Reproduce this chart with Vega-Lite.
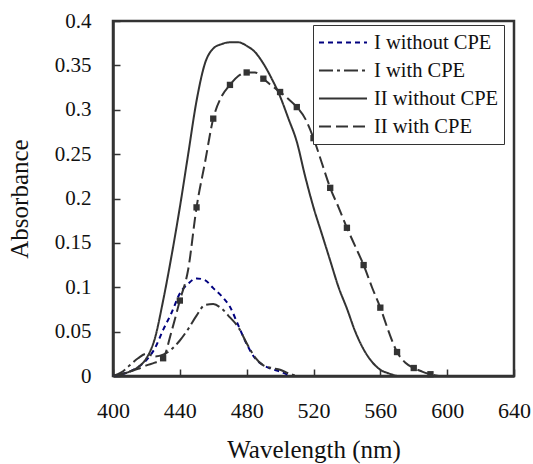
{
  "$schema": "https://vega.github.io/schema/vega-lite/v6.json",
  "width": 401,
  "height": 355,
  "autosize": {"type": "none"},
  "padding": {"left": 113, "top": 21, "right": 19, "bottom": 88},
  "background": "white",
  "config": {
    "view": {"stroke": "#333", "strokeWidth": 2.5},
    "font": "Liberation Serif"
  },
  "data": {"values": [
    {"s": "I without CPE", "wl": 400, "a": 0.0},
    {"s": "I without CPE", "wl": 405, "a": 0.002},
    {"s": "I without CPE", "wl": 410, "a": 0.005},
    {"s": "I without CPE", "wl": 415, "a": 0.01},
    {"s": "I without CPE", "wl": 420, "a": 0.018},
    {"s": "I without CPE", "wl": 425, "a": 0.031},
    {"s": "I without CPE", "wl": 430, "a": 0.052},
    {"s": "I without CPE", "wl": 435, "a": 0.071},
    {"s": "I without CPE", "wl": 440, "a": 0.093},
    {"s": "I without CPE", "wl": 445, "a": 0.104},
    {"s": "I without CPE", "wl": 450, "a": 0.11},
    {"s": "I without CPE", "wl": 455, "a": 0.108},
    {"s": "I without CPE", "wl": 460, "a": 0.099},
    {"s": "I without CPE", "wl": 465, "a": 0.09},
    {"s": "I without CPE", "wl": 470, "a": 0.078},
    {"s": "I without CPE", "wl": 475, "a": 0.057},
    {"s": "I without CPE", "wl": 480, "a": 0.036},
    {"s": "I without CPE", "wl": 485, "a": 0.02},
    {"s": "I without CPE", "wl": 490, "a": 0.012},
    {"s": "I without CPE", "wl": 495, "a": 0.008},
    {"s": "I without CPE", "wl": 500, "a": 0.005},
    {"s": "I without CPE", "wl": 505, "a": 0.001},
    {"s": "I with CPE", "wl": 400, "a": 0.0},
    {"s": "I with CPE", "wl": 405, "a": 0.004},
    {"s": "I with CPE", "wl": 410, "a": 0.012},
    {"s": "I with CPE", "wl": 415, "a": 0.02},
    {"s": "I with CPE", "wl": 420, "a": 0.025},
    {"s": "I with CPE", "wl": 425, "a": 0.022},
    {"s": "I with CPE", "wl": 430, "a": 0.024},
    {"s": "I with CPE", "wl": 435, "a": 0.03},
    {"s": "I with CPE", "wl": 440, "a": 0.04},
    {"s": "I with CPE", "wl": 445, "a": 0.053},
    {"s": "I with CPE", "wl": 450, "a": 0.068},
    {"s": "I with CPE", "wl": 455, "a": 0.08},
    {"s": "I with CPE", "wl": 460, "a": 0.081},
    {"s": "I with CPE", "wl": 465, "a": 0.076},
    {"s": "I with CPE", "wl": 470, "a": 0.066},
    {"s": "I with CPE", "wl": 475, "a": 0.055},
    {"s": "I with CPE", "wl": 480, "a": 0.037},
    {"s": "I with CPE", "wl": 485, "a": 0.021},
    {"s": "I with CPE", "wl": 490, "a": 0.012},
    {"s": "I with CPE", "wl": 495, "a": 0.009},
    {"s": "I with CPE", "wl": 500, "a": 0.007},
    {"s": "I with CPE", "wl": 505, "a": 0.003},
    {"s": "I with CPE", "wl": 510, "a": 0.0},
    {"s": "II without CPE", "wl": 400, "a": 0.0},
    {"s": "II without CPE", "wl": 405, "a": 0.002},
    {"s": "II without CPE", "wl": 410, "a": 0.005},
    {"s": "II without CPE", "wl": 415, "a": 0.01},
    {"s": "II without CPE", "wl": 420, "a": 0.02},
    {"s": "II without CPE", "wl": 425, "a": 0.042},
    {"s": "II without CPE", "wl": 430, "a": 0.085},
    {"s": "II without CPE", "wl": 435, "a": 0.135},
    {"s": "II without CPE", "wl": 440, "a": 0.19},
    {"s": "II without CPE", "wl": 445, "a": 0.25},
    {"s": "II without CPE", "wl": 450, "a": 0.31},
    {"s": "II without CPE", "wl": 455, "a": 0.352},
    {"s": "II without CPE", "wl": 460, "a": 0.369},
    {"s": "II without CPE", "wl": 465, "a": 0.374},
    {"s": "II without CPE", "wl": 470, "a": 0.376},
    {"s": "II without CPE", "wl": 475, "a": 0.376},
    {"s": "II without CPE", "wl": 480, "a": 0.372},
    {"s": "II without CPE", "wl": 485, "a": 0.365},
    {"s": "II without CPE", "wl": 490, "a": 0.352},
    {"s": "II without CPE", "wl": 495, "a": 0.335},
    {"s": "II without CPE", "wl": 500, "a": 0.315},
    {"s": "II without CPE", "wl": 505, "a": 0.29},
    {"s": "II without CPE", "wl": 510, "a": 0.264},
    {"s": "II without CPE", "wl": 515, "a": 0.225},
    {"s": "II without CPE", "wl": 520, "a": 0.19},
    {"s": "II without CPE", "wl": 525, "a": 0.16},
    {"s": "II without CPE", "wl": 530, "a": 0.13},
    {"s": "II without CPE", "wl": 535, "a": 0.1},
    {"s": "II without CPE", "wl": 540, "a": 0.076},
    {"s": "II without CPE", "wl": 545, "a": 0.05},
    {"s": "II without CPE", "wl": 550, "a": 0.03},
    {"s": "II without CPE", "wl": 555, "a": 0.016},
    {"s": "II without CPE", "wl": 560, "a": 0.007},
    {"s": "II without CPE", "wl": 565, "a": 0.003},
    {"s": "II without CPE", "wl": 570, "a": 0.0},
    {"s": "II with CPE", "wl": 400, "a": 0.0},
    {"s": "II with CPE", "wl": 405, "a": 0.002},
    {"s": "II with CPE", "wl": 410, "a": 0.005},
    {"s": "II with CPE", "wl": 415, "a": 0.008},
    {"s": "II with CPE", "wl": 420, "a": 0.012},
    {"s": "II with CPE", "wl": 425, "a": 0.015},
    {"s": "II with CPE", "wl": 430, "a": 0.02},
    {"s": "II with CPE", "wl": 435, "a": 0.05},
    {"s": "II with CPE", "wl": 440, "a": 0.085},
    {"s": "II with CPE", "wl": 445, "a": 0.12},
    {"s": "II with CPE", "wl": 450, "a": 0.19},
    {"s": "II with CPE", "wl": 455, "a": 0.24},
    {"s": "II with CPE", "wl": 460, "a": 0.29},
    {"s": "II with CPE", "wl": 465, "a": 0.315},
    {"s": "II with CPE", "wl": 470, "a": 0.328},
    {"s": "II with CPE", "wl": 475, "a": 0.338},
    {"s": "II with CPE", "wl": 480, "a": 0.342},
    {"s": "II with CPE", "wl": 485, "a": 0.342},
    {"s": "II with CPE", "wl": 490, "a": 0.335},
    {"s": "II with CPE", "wl": 495, "a": 0.327},
    {"s": "II with CPE", "wl": 500, "a": 0.32},
    {"s": "II with CPE", "wl": 505, "a": 0.312},
    {"s": "II with CPE", "wl": 510, "a": 0.303},
    {"s": "II with CPE", "wl": 515, "a": 0.29},
    {"s": "II with CPE", "wl": 520, "a": 0.268},
    {"s": "II with CPE", "wl": 525, "a": 0.24},
    {"s": "II with CPE", "wl": 530, "a": 0.212},
    {"s": "II with CPE", "wl": 535, "a": 0.19},
    {"s": "II with CPE", "wl": 540, "a": 0.167},
    {"s": "II with CPE", "wl": 545, "a": 0.146},
    {"s": "II with CPE", "wl": 550, "a": 0.125},
    {"s": "II with CPE", "wl": 555, "a": 0.1},
    {"s": "II with CPE", "wl": 560, "a": 0.077},
    {"s": "II with CPE", "wl": 565, "a": 0.05},
    {"s": "II with CPE", "wl": 570, "a": 0.027},
    {"s": "II with CPE", "wl": 575, "a": 0.015},
    {"s": "II with CPE", "wl": 580, "a": 0.009},
    {"s": "II with CPE", "wl": 585, "a": 0.005},
    {"s": "II with CPE", "wl": 590, "a": 0.002},
    {"s": "II with CPE", "wl": 595, "a": 0.0}
  ]},
  "encoding": {
    "x": {
      "field": "wl", "type": "quantitative",
      "scale": {"domain": [400, 640], "nice": false},
      "axis": {
        "title": "Wavelength (nm)",
        "values": [400, 440, 480, 520, 560, 600, 640],
        "grid": false, "labelFlush": false, "labelOverlap": false,
        "domainColor": "#333", "domainWidth": 2.5,
        "tickColor": "#333", "tickSize": -7, "tickWidth": 1.5,
        "labelFontSize": 22, "labelColor": "#111", "labelPadding": 31,
        "titleFontSize": 25, "titleFontWeight": "normal", "titleColor": "#111", "titlePadding": 16
      }
    },
    "y": {
      "field": "a", "type": "quantitative",
      "scale": {"domain": [0, 0.4], "nice": false},
      "axis": {
        "title": "Absorbance",
        "values": [0, 0.05, 0.1, 0.15, 0.2, 0.25, 0.3, 0.35, 0.4],
        "format": "~g",
        "grid": false, "labelFlush": false, "labelOverlap": false,
        "domainColor": "#333", "domainWidth": 2.5,
        "tickColor": "#333", "tickSize": -7, "tickWidth": 1.5,
        "labelFontSize": 21, "labelColor": "#111", "labelPadding": 29,
        "titleFontSize": 25, "titleFontWeight": "normal", "titleColor": "#111", "titlePadding": 22
      }
    }
  },
  "layer": [
    {
      "mark": {"type": "line", "strokeWidth": 2, "interpolate": "monotone"},
      "encoding": {
        "detail": {"field": "s"},
        "color": {
          "field": "s", "type": "nominal",
          "scale": {
            "domain": ["I without CPE", "I with CPE", "II without CPE", "II with CPE"],
            "range": ["#00007f", "#333333", "#333333", "#333333"]
          },
          "legend": {
            "title": null, "orient": "none", "legendX": 200, "legendY": 4,
            "symbolType": "stroke", "symbolSize": 2304, "symbolStrokeWidth": 2,
            "labelFontSize": 20.5, "labelColor": "#111", "labelFont": "Liberation Serif", "labelOffset": 6,
            "strokeColor": "#333", "fillColor": "white", "padding": 5, "rowPadding": 3, "clipHeight": 25
          }
        },
        "strokeDash": {
          "field": "s", "type": "nominal",
          "scale": {
            "domain": ["I without CPE", "I with CPE", "II without CPE", "II with CPE"],
            "range": [[5, 4], [14, 4, 3, 4], [1, 0], [12, 5]]
          },
          "legend": {
            "title": null, "orient": "none", "legendX": 200, "legendY": 4,
            "symbolType": "stroke", "symbolSize": 2304, "symbolStrokeWidth": 2,
            "labelFontSize": 20.5, "labelColor": "#111", "labelFont": "Liberation Serif", "labelOffset": 6,
            "strokeColor": "#333", "fillColor": "white", "padding": 5, "rowPadding": 3, "clipHeight": 25
          }
        }
      }
    },
    {
      "transform": [{"filter": "datum.s == 'II with CPE' && datum.wl % 10 == 0 && datum.wl >= 430"}],
      "mark": {"type": "square", "filled": true, "size": 40, "color": "#333", "opacity": 1},
      "encoding": {}
    }
  ]
}
